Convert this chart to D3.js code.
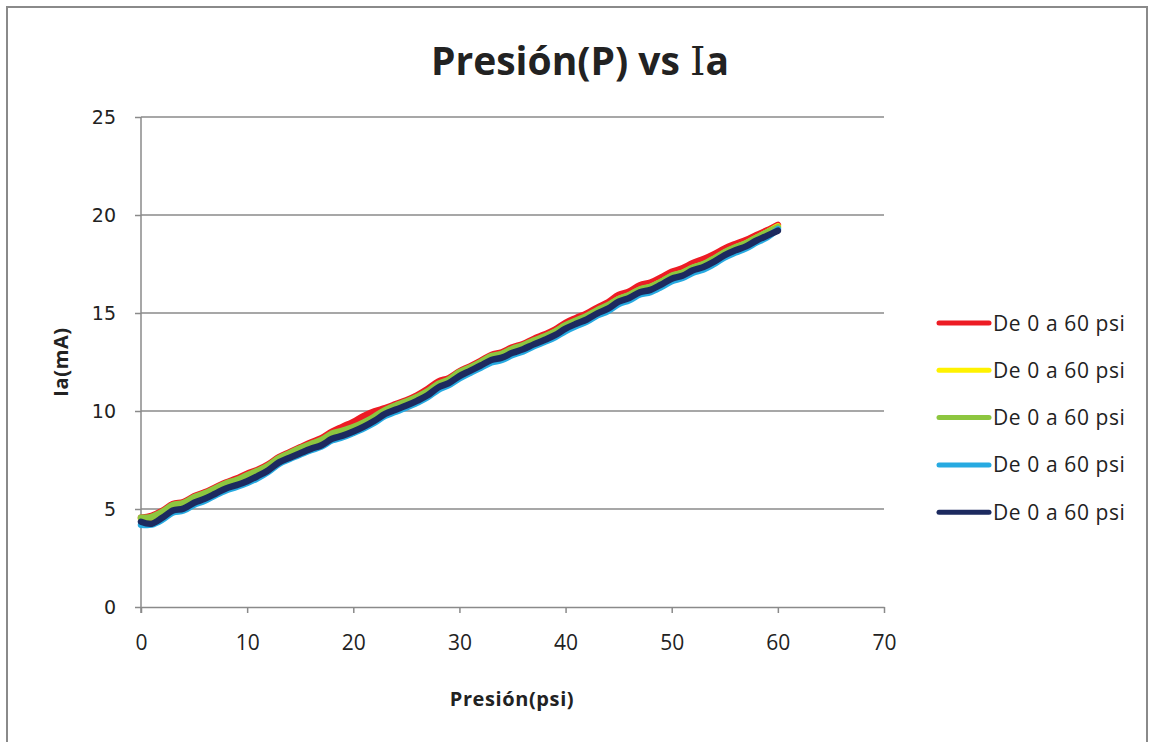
<!DOCTYPE html>
<html>
<head>
<meta charset="utf-8">
<script src="https://cdn.jsdelivr.net/npm/d3@7"></script>
<style>
  html, body { margin: 0; padding: 0; background: #fff; }
  svg { display: block; }
</style>
</head>
<body>
<svg id="chart" width="1154" height="742"></svg>
<script>
// Pressure readings, 0 to 60 psi in 1 psi steps
const presion = d3.range(0, 61);

// Current (mA) for each of the five runs
const corridaRoja = [4.55,4.65,4.9,5.25,5.35,5.65,5.85,6.1,6.35,6.55,6.8,7.0,7.28,7.65,7.9,8.15,8.4,8.62,8.95,9.2,9.45,9.75,9.98,10.15,10.35,10.55,10.8,11.12,11.5,11.68,12.02,12.28,12.56,12.86,13.0,13.25,13.42,13.68,13.9,14.15,14.5,14.75,14.98,15.28,15.55,15.92,16.1,16.42,16.55,16.82,17.1,17.28,17.55,17.75,18.0,18.3,18.52,18.72,18.98,19.22,19.5];
const corridaAmarilla = [4.5,4.5,4.78,5.12,5.22,5.5,5.72,5.98,6.22,6.4,6.62,6.86,7.15,7.52,7.76,8.0,8.22,8.42,8.76,8.92,9.12,9.38,9.66,10.0,10.22,10.42,10.66,10.94,11.32,11.55,11.92,12.18,12.45,12.74,12.86,13.12,13.3,13.55,13.76,14.02,14.34,14.58,14.8,15.1,15.36,15.7,15.9,16.18,16.32,16.58,16.88,17.04,17.3,17.48,17.76,18.08,18.33,18.55,18.84,19.12,19.42];
const corridaVerde = [4.55,4.6,4.85,5.2,5.3,5.6,5.8,6.05,6.3,6.48,6.72,6.95,7.22,7.6,7.85,8.1,8.32,8.52,8.85,9.0,9.18,9.42,9.72,10.05,10.28,10.48,10.72,11.0,11.38,11.6,11.98,12.22,12.5,12.8,12.92,13.18,13.35,13.6,13.8,14.05,14.38,14.62,14.85,15.15,15.4,15.72,15.92,16.2,16.34,16.6,16.9,17.05,17.32,17.5,17.78,18.1,18.35,18.56,18.85,19.12,19.38];
const corridaCeleste = [4.2,4.2,4.45,4.82,4.92,5.22,5.42,5.7,5.95,6.12,6.32,6.58,6.9,7.3,7.55,7.78,8.0,8.18,8.5,8.66,8.88,9.12,9.4,9.75,9.96,10.18,10.42,10.7,11.08,11.32,11.66,11.94,12.2,12.48,12.6,12.86,13.04,13.3,13.52,13.76,14.08,14.34,14.56,14.88,15.1,15.45,15.65,15.94,16.06,16.32,16.62,16.78,17.06,17.22,17.5,17.84,18.08,18.3,18.6,18.86,19.28];
const corridaAzul = [4.35,4.25,4.55,4.92,5.02,5.32,5.52,5.78,6.05,6.22,6.42,6.68,6.98,7.38,7.62,7.85,8.07,8.25,8.58,8.74,8.95,9.2,9.5,9.85,10.07,10.28,10.52,10.8,11.2,11.42,11.78,12.05,12.32,12.6,12.72,12.97,13.15,13.4,13.62,13.87,14.2,14.45,14.67,14.98,15.22,15.58,15.77,16.06,16.18,16.45,16.75,16.9,17.18,17.35,17.62,17.95,18.2,18.4,18.7,18.95,19.2];

const nombresSeries = ["De 0 a 60 psi","De 0 a 60 psi","De 0 a 60 psi","De 0 a 60 psi","De 0 a 60 psi"];
const coloresSeries = ["#ed1c24","#fff200","#8dc63f","#27aae1","#1c2a5f"];
const valoresSeries = [corridaRoja, corridaAmarilla, corridaVerde, corridaCeleste, corridaAzul];

const ticksX = [0,10,20,30,40,50,60,70];
const ticksY = [0,5,10,15,20,25];

const svg = d3.select("#chart");
const gris = "#8a8a8a";

// outer chart border
svg.append("rect")
  .attr("x", 7).attr("y", 7)
  .attr("width", 1140).attr("height", 760)
  .attr("fill", "none").attr("stroke", gris).attr("stroke-width", 2);

const margin = { left: 141, right: 884, top: 117, bottom: 607 };
const x = d3.scaleLinear().domain([0, 70]).range([margin.left, margin.right]);
const y = d3.scaleLinear().domain([0, 25]).range([margin.bottom, margin.top]);

// horizontal gridlines
svg.append("g")
  .selectAll("line")
  .data(ticksY.filter(d => d > 0))
  .join("line")
  .attr("x1", margin.left).attr("x2", margin.right)
  .attr("y1", d => y(d)).attr("y2", d => y(d))
  .attr("stroke", gris).attr("stroke-width", 1.5);

// y axis
const ejeY = svg.append("g")
  .attr("transform", `translate(${margin.left},0)`)
  .call(d3.axisLeft(y).tickValues(ticksY).tickSize(6).tickSizeOuter(0).tickPadding(19));
ejeY.select(".domain").attr("stroke", gris).attr("stroke-width", 1.5)
  .attr("d", `M0,${margin.top}V${margin.bottom + 6}`);
ejeY.selectAll(".tick line").attr("stroke", gris).attr("stroke-width", 1.5);
ejeY.selectAll(".tick text")
  .attr("font-family", "'DejaVu Sans', sans-serif")
  .attr("font-size", 19).attr("fill", "#222");

// x axis
const ejeX = svg.append("g")
  .attr("transform", `translate(0,${margin.bottom})`)
  .call(d3.axisBottom(x).tickValues(ticksX).tickSize(6).tickSizeOuter(0).tickPadding(22));
ejeX.select(".domain").attr("stroke", gris).attr("stroke-width", 1.5);
ejeX.selectAll(".tick line").attr("stroke", gris).attr("stroke-width", 1.5);
ejeX.selectAll(".tick text")
  .attr("font-family", "'Liberation Sans Narrow', 'Open Sans', sans-serif")
  .attr("font-size", 21).attr("fill", "#222");

// data lines
const linea = d3.line()
  .x((d, i) => x(presion[i]))
  .y(d => y(d))
  .curve(d3.curveCardinal.tension(0));

svg.append("g")
  .selectAll("path")
  .data(valoresSeries)
  .join("path")
  .attr("d", d => linea(d))
  .attr("fill", "none")
  .attr("stroke", (d, i) => coloresSeries[i])
  .attr("stroke-width", 6.5)
  .attr("stroke-linejoin", "round")
  .attr("stroke-linecap", "round");

// titles
const titulo = svg.append("text")
  .attr("x", 580).attr("y", 75)
  .attr("text-anchor", "middle")
  .attr("font-family", "'Open Sans', sans-serif")
  .attr("font-weight", "bold").attr("font-size", 39).attr("fill", "#222");
titulo.append("tspan").text("Presión(P) vs ");
titulo.append("tspan").attr("font-family", "'DejaVu Serif', serif").attr("font-weight", "normal").text("I");
titulo.append("tspan").text("a");

svg.append("text")
  .attr("x", 512).attr("y", 706)
  .attr("text-anchor", "middle")
  .attr("font-family", "'Open Sans', sans-serif")
  .attr("font-weight", "bold").attr("font-size", 20).attr("letter-spacing", 0.6).attr("fill", "#222")
  .text("Presión(psi)");

svg.append("text")
  .attr("transform", "translate(68,362) rotate(-90)")
  .attr("text-anchor", "middle")
  .attr("font-family", "'Open Sans', sans-serif")
  .attr("font-weight", "bold").attr("font-size", 20).attr("letter-spacing", 0.6).attr("fill", "#222")
  .text("Ia(mA)");

// legend
const leyenda = svg.append("g")
  .selectAll("g")
  .data(nombresSeries)
  .join("g")
  .attr("transform", (d, i) => `translate(939,${323 + i * 47.3})`);
leyenda.append("line")
  .attr("x1", 0).attr("x2", 50)
  .attr("stroke", (d, i) => coloresSeries[i])
  .attr("stroke-width", 5).attr("stroke-linecap", "round");
leyenda.append("text")
  .attr("x", 54).attr("y", 7.5)
  .attr("font-family", "'Open Sans', sans-serif")
  .attr("font-size", 21).attr("letter-spacing", 0.6).attr("fill", "#222")
  .text(d => d);
</script>
</body>
</html>
